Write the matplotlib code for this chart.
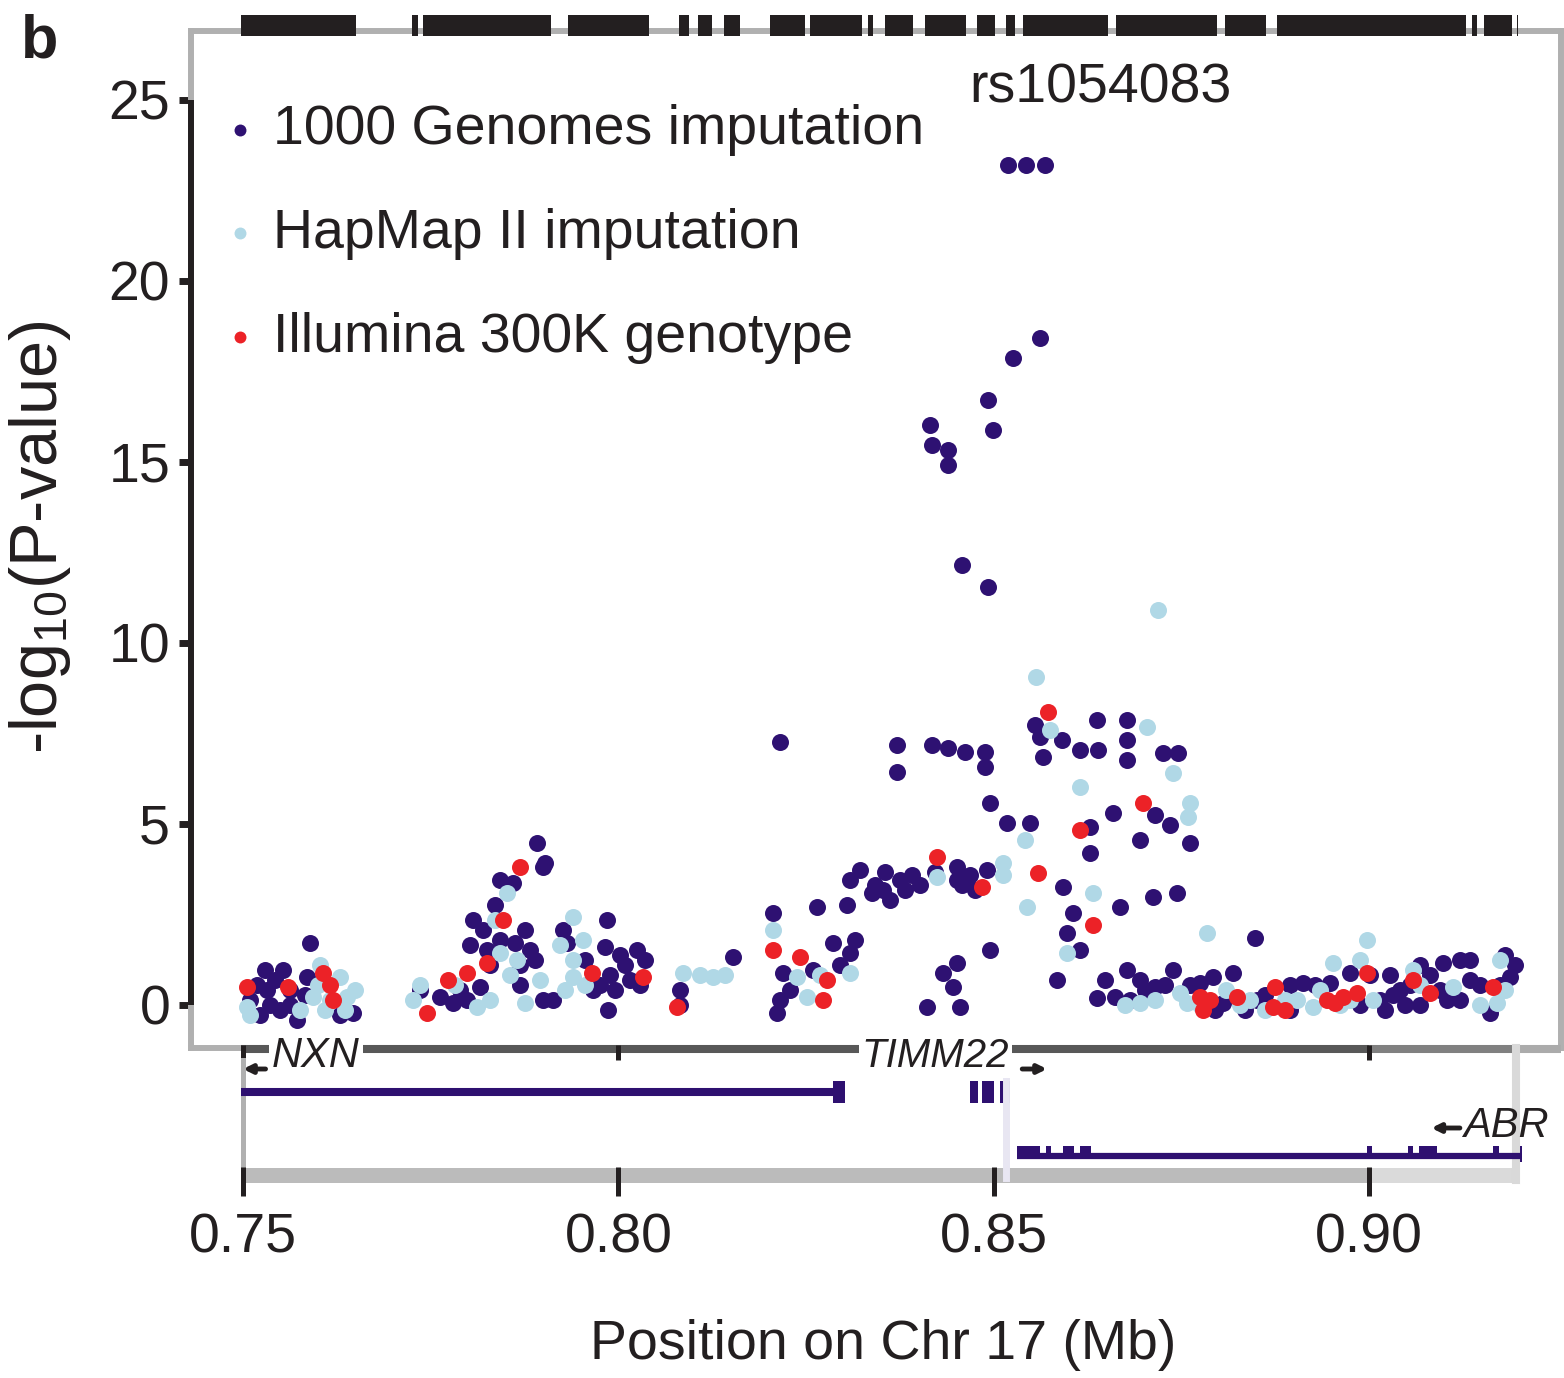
import matplotlib.pyplot as plt
import matplotlib.transforms as mtransforms
from matplotlib.patches import Rectangle

plt.rcParams['font.family'] = ['Liberation Sans', 'DejaVu Sans']
plt.rcParams['mathtext.fontset'] = 'custom'
plt.rcParams['mathtext.rm'] = 'Liberation Sans'
plt.rcParams['mathtext.it'] = 'Liberation Sans:italic'

# ---- association results (position in Mb, -log10 P) ----
g1000_x = [0.8519, 0.8543, 0.8568, 0.8562, 0.8526, 0.8492, 0.8499, 0.8415, 0.8418, 0.8439,
           0.8439, 0.8458, 0.8492,
           0.8215, 0.8371, 0.8371, 0.8418, 0.8439, 0.8462, 0.8488, 0.8488, 0.8555, 0.8562,
           0.8566, 0.8591, 0.8615, 0.8639, 0.8638, 0.8678, 0.8678, 0.8678, 0.8726, 0.8746,
           0.8715, 0.8735, 0.8762, 0.8695, 0.8659, 0.8628, 0.8628, 0.8495, 0.8518, 0.8548,
           0.8355, 0.8375, 0.8353, 0.8391, 0.8451, 0.8451, 0.8468, 0.8491, 0.8592, 0.8606,
           0.8598, 0.8615, 0.8668, 0.8712, 0.8744, 0.8495, 0.8451, 0.8432, 0.8446, 0.8411,
           0.8455, 0.8584, 0.8638, 0.8662, 0.8682, 0.8678, 0.8695, 0.8715, 0.8739,
           0.8402, 0.8422, 0.8458, 0.8475, 0.8362, 0.8382,
           0.8648, 0.8701, 0.8728,
           0.8309, 0.8322, 0.8342, 0.8305, 0.8338, 0.8265, 0.8286, 0.8309, 0.8206, 0.8219,
           0.8259, 0.8215, 0.8211, 0.8153, 0.8082, 0.8082, 0.8229, 0.8295, 0.8315,
           0.7902, 0.7985, 0.7982, 0.8002, 0.8025, 0.7989, 0.8016, 0.7996, 0.7966, 0.7986,
           0.7900, 0.7926, 0.7932, 0.8009, 0.8029, 0.7976, 0.8036, 0.7956,
           0.7762, 0.7780, 0.7798, 0.7816, 0.7825, 0.7842, 0.7862, 0.7882, 0.7806, 0.7842,
           0.7892, 0.7900, 0.7860, 0.7736, 0.7829, 0.7869,
           0.7789, 0.7869, 0.7889, 0.7913, 0.7820, 0.7836, 0.7876, 0.7802,
           0.7589, 0.7529, 0.7532, 0.7536, 0.7549, 0.7553, 0.7585, 0.7647, 0.7572, 0.7563,
           0.7523, 0.7519, 0.7563, 0.7583, 0.7629, 0.7509, 0.7543,
           0.8848, 0.8792, 0.8805, 0.8819, 0.8851, 0.8912, 0.8948, 0.8975, 0.9028, 0.9032,
           0.9048, 0.9055, 0.9015, 0.9099, 0.9104, 0.9134, 0.9181, 0.9188, 0.9161, 0.9081,
           0.9121, 0.8775, 0.8895, 0.8988,
           0.8762, 0.8795, 0.8835, 0.8861, 0.8895, 0.8928, 0.9001, 0.9021, 0.9041, 0.9068,
           0.9094, 0.9121, 0.9148, 0.9174, 0.9194, 0.9134, 0.9068]
g1000_y = [23.20, 23.20, 23.20, 18.43, 17.87, 16.71, 15.88, 16.02, 15.47, 15.33,
           14.92, 12.15, 11.55,
           7.27, 7.18, 6.44, 7.18, 7.10, 6.99, 6.99, 6.57, 7.73, 7.40,
           6.85, 7.32, 7.04, 7.04, 7.87, 7.87, 7.32, 6.77, 6.96, 6.96,
           5.25, 4.97, 4.48, 4.56, 5.30, 4.92, 4.20, 5.58, 5.03, 5.03,
           3.67, 3.45, 3.18, 3.59, 3.81, 3.45, 3.59, 3.73, 3.26, 2.54,
           1.99, 1.52, 2.71, 2.98, 3.09, 1.52, 1.16, 0.88, 0.50, -0.06,
           -0.06, 0.69, 0.19, 0.22, 0.14, 0.97, 0.69, 0.50, 0.97,
           3.31, 3.67, 3.31, 3.18, 2.90, 3.18,
           0.69, 0.41, 0.55,
           3.45, 3.73, 3.31, 2.76, 3.09, 2.71, 1.71, 1.44, 2.54, 0.88,
           0.97, 0.14, -0.22, 1.33, 0.41, 0.00, 0.41, 1.10, 1.80,
           3.92, 2.35, 1.60, 1.38, 1.52, 0.83, 0.69, 0.41, 0.41, -0.14,
           0.14, 2.07, 1.71, 1.10, 0.55, 0.55, 1.24, 1.24,
           0.22, 0.06, 0.14, 0.50, 1.52, 1.80, 1.71, 1.52, 2.35, 3.45,
           4.48, 3.81, 3.37, 0.41, 1.10, 1.10,
           0.41, 0.55, 1.24, 0.14, 2.07, 2.76, 2.07, 1.66,
           1.71, 0.97, 0.41, 0.00, -0.14, 0.97, 0.77, -0.22, -0.41, 0.41,
           -0.28, 0.55, 0.00, 0.28, -0.28, 0.14, 0.69,
           1.85, 0.77, 0.06, 0.88, 0.14, 0.61, 0.61, 0.88, 0.83, 0.28,
           0.00, 0.55, 0.14, 1.16, 0.14, 0.69, 1.38, 0.77, -0.22, 0.83,
           1.24, 0.61, -0.14, 0.00,
           0.55, -0.14, -0.14, 0.28, 0.55, 0.55, 0.83, -0.14, 0.41, 0.00,
           0.41, 0.14, 0.55, 0.55, 1.10, 1.24, 1.10]

hapmap_x = [0.8719, 0.8556, 0.8575, 0.8704, 0.8739, 0.8615, 0.8762, 0.8759, 0.8542, 0.8512,
            0.8424, 0.8512, 0.8544, 0.8632, 0.8598, 0.8695, 0.8748, 0.8784, 0.8206, 0.8238,
            0.8251, 0.8309, 0.8086, 0.8126, 0.7940, 0.7953, 0.7940, 0.7940, 0.7842, 0.7852,
            0.7865, 0.7726, 0.7812, 0.7505, 0.7593, 0.7639, 0.7629, 0.7609,
            0.7509, 0.7600, 0.7616, 0.7636, 0.7603, 0.7576, 0.7649,
            0.7736, 0.7782, 0.7829, 0.7856, 0.7876, 0.7896, 0.7836,
            0.7929, 0.7956, 0.7922, 0.8109, 0.8142, 0.8269, 0.8715, 0.8675,
            0.8757, 0.8904, 0.8925, 0.8952, 0.8997, 0.9005, 0.9059, 0.9112, 0.9170, 0.9174,
            0.8841, 0.8961, 0.8775, 0.8809, 0.8861, 0.8888, 0.8935, 0.8975, 0.8988, 0.9068,
            0.9148, 0.9181, 0.8828]
hapmap_y = [10.91, 9.06, 7.60, 7.68, 6.41, 6.02, 5.58, 5.19, 4.56, 3.92,
            3.54, 3.59, 2.71, 3.09, 1.44, 0.06, 0.33, 1.99, 2.07, 0.77,
            0.22, 0.88, 0.88, 0.77, 2.43, 1.80, 1.24, 0.77, 1.44, 3.09,
            1.24, 0.14, -0.06, -0.06, 0.22, 0.22, 0.77, -0.14,
            -0.28, 0.55, 0.14, -0.14, 1.10, -0.14, 0.41,
            0.55, 0.55, 0.14, 0.83, 0.06, 0.69, 2.35,
            0.41, 0.55, 1.66, 0.83, 0.83, 0.83, 0.14, 0.00,
            0.06, 0.14, -0.06, 1.16, 1.80, 0.14, 0.97, 0.50, 0.06, 1.24,
            0.14, 0.00, 0.00, 0.41, -0.14, 0.14, 0.41, 0.14, 1.24, 0.55,
            0.00, 0.41, 0.00]

illumina_x = [0.8572, 0.8699, 0.8615, 0.8424, 0.8559, 0.8484, 0.8632, 0.8775, 0.8779, 0.8206,
              0.8242, 0.8278, 0.8273, 0.8078, 0.7965, 0.8033, 0.7869, 0.7846, 0.7825, 0.7798,
              0.7773, 0.7745, 0.7505, 0.7560, 0.7607, 0.7620, 0.7616,
              0.8824, 0.8875, 0.8872, 0.8944, 0.8965, 0.8984, 0.8997, 0.9059, 0.9081, 0.9165,
              0.8788, 0.8888, 0.8955]
illumina_y = [8.09, 5.58, 4.83, 4.09, 3.65, 3.26, 2.21, 0.22, -0.14, 1.52,
              1.33, 0.69, 0.14, -0.06, 0.88, 0.77, 3.81, 2.35, 1.16, 0.88,
              0.69, -0.22, 0.50, 0.50, 0.88, 0.14, 0.55,
              0.22, 0.50, -0.06, 0.14, 0.22, 0.33, 0.88, 0.69, 0.33, 0.50,
              0.14, -0.14, 0.06]

series_labels = ['1000 Genomes imputation', 'HapMap II imputation', 'Illumina 300K genotype']
top_snp = 'rs1054083'
top_snp_pos = (0.8642, 25.3)

# ---- marker density rug along the top (Mb ranges) ----
snp_blocks = [(0.7497, 0.7651), (0.7725, 0.7733), (0.7740, 0.7910), (0.7933, 0.8041),
              (0.8081, 0.8094), (0.8106, 0.8125), (0.8141, 0.8162), (0.8202, 0.8249),
              (0.8255, 0.8325), (0.8333, 0.8339), (0.8355, 0.8392), (0.8408, 0.8463),
              (0.8478, 0.8502), (0.8516, 0.8528), (0.8539, 0.8652), (0.8663, 0.8797),
              (0.8808, 0.8863), (0.8877, 0.9129), (0.9137, 0.9144), (0.9153, 0.9190),
              (0.9197, 0.9199)]

# ---- genes ----
nxn_span = (0.7497, 0.8295)
nxn_exons = [(0.8286, 0.8302)]
timm22_exons = [(0.8468, 0.8479), (0.8484, 0.8500), (0.8508, 0.8522)]
abr_span = (0.8531, 0.9204)
abr_exons = [(0.8531, 0.8562), (0.8570, 0.8576), (0.8592, 0.8607), (0.8615, 0.8630),
             (0.8997, 0.9004), (0.9052, 0.9059), (0.9067, 0.9091), (0.9165, 0.9173)]

xticks = [0.75, 0.80, 0.85, 0.90]
xtick_labels = ['0.75', '0.80', '0.85', '0.90']
yticks = [0, 5, 10, 15, 20, 25]

DARK = '#2e1172'
LIGHT = '#b0d8e6'
RED = '#ec2227'
INK = '#231f20'
GENE = '#2e1070'
FS = 40
MS = 150

fig = plt.figure(figsize=(15.64, 13.78), dpi=100)
W, H = 1564, 1378
xlim = (0.74307, 0.92557)

ax = fig.add_axes([191 / W, 1 - 1048 / H, 1370 / W, 1017 / H])
ax.set_xlim(*xlim)
ax.set_ylim(-1.188, 26.9)

s1 = ax.scatter(g1000_x, g1000_y, s=MS, color=DARK, linewidths=0, label=series_labels[0], zorder=3)
s2 = ax.scatter(hapmap_x, hapmap_y, s=MS, color=LIGHT, linewidths=0, label=series_labels[1], zorder=3)
s3 = ax.scatter(illumina_x, illumina_y, s=MS, color=RED, linewidths=0, label=series_labels[2], zorder=3)

for sp in ax.spines.values():
    sp.set_color('#b0b0b0')
    sp.set_linewidth(4.3)
yax_tr = mtransforms.blended_transform_factory(ax.transAxes, ax.transData)
ax.plot([0, 0], [0, 25], color=INK, lw=4.3, transform=yax_tr, clip_on=False,
        solid_capstyle='butt', zorder=5)
ax.set_xticks([])
ax.set_yticks(yticks)
ax.tick_params(axis='y', length=9, width=5, color=INK, pad=6, labelsize=FS, labelcolor=INK)

# top rug
rug_tr = mtransforms.blended_transform_factory(ax.transData, ax.transAxes)
ax.broken_barh([(a, b - a) for a, b in snp_blocks], (0.995, 0.021), transform=rug_tr,
               facecolor=INK, edgecolor='none', clip_on=False, zorder=6)

ax.text(top_snp_pos[0], top_snp_pos[1], top_snp, fontsize=FS, color=INK, ha='center', va='center')

ax.legend(handles=[s1, s2, s3], loc='upper left', bbox_to_anchor=(0.0255, 0.928),
          frameon=False, fontsize=FS, borderpad=0, borderaxespad=0, handlelength=0.5,
          handletextpad=0.35, labelspacing=0.93, scatterpoints=1, markerscale=0.7,
          labelcolor=INK)

ax.text(-0.110, 0.502, '-log$_{10}$(P-value)', transform=ax.transAxes, rotation=90,
        ha='center', va='center', fontsize=48, color=INK)

# ---- gene track ----
tk = fig.add_axes([191 / W, 1 - 1196 / H, 1370 / W, 156 / H])
tk.set_xlim(*xlim)
tk.set_ylim(0, 156)
for name, sp in tk.spines.items():
    sp.set_visible(False)
tk.set_axisbelow(False)
tk.set_yticks([])
tk.set_xticks(xticks)
tk.set_xticklabels(xtick_labels)
tk.tick_params(axis='x', direction='in', length=21, width=3.6, color=INK, pad=12,
               labelsize=FS, labelcolor=INK)
tk.patch.set_alpha(0)

# genomic axis line along top of track
tk.plot([0.7497, 0.90], [147, 147], color='#585858', lw=5.8, solid_capstyle='butt')
tk.plot([0.90, 0.9196], [147, 147], color='#808080', lw=5.8, solid_capstyle='butt')
tk.plot([0.9196, xlim[1]], [147, 147], color='#ababab', lw=5.8, solid_capstyle='butt')
tk.vlines([0.75, 0.80, 0.90], 136, 151, color=INK, lw=3.6)

# bottom band
tk.plot([0.7497, 0.90], [21.5, 21.5], color='#bbbbbb', lw=10.8, solid_capstyle='butt')
tk.plot([0.90, 0.9196], [21.5, 21.5], color='#dadada', lw=10.8, solid_capstyle='butt')

# side guides
tk.plot([0.7500, 0.7500], [26, 136], color='#b0b0b0', lw=3.6)
tk.plot([0.9196, 0.9196], [16, 148], color='#d9d9d9', lw=5.8)
tk.plot([0.8516, 0.8516], [18, 121], color='#e8e6f2', lw=5.0)

arrow_style = dict(arrowstyle='-|>,head_length=0.5,head_width=0.25', lw=3.5, color=INK,
                   shrinkA=0, shrinkB=0)

# NXN
tk.plot(nxn_span, [104, 104], color=GENE, lw=5.8, solid_capstyle='butt')
for a, b in nxn_exons:
    tk.add_patch(Rectangle((a, 93), b - a, 22, color=GENE, lw=0))
tk.annotate('', xy=(0.7500, 127), xytext=(0.7530, 127), arrowprops=arrow_style)
tk.text(0.7597, 140, 'NXN', fontsize=30, style='italic', color=INK, ha='center', va='center',
        bbox=dict(facecolor='white', edgecolor='none', pad=2))

# TIMM22
for a, b in timm22_exons:
    tk.add_patch(Rectangle((a, 93), b - a, 22, color=GENE, lw=0))
tk.text(0.8422, 140, 'TIMM22', fontsize=29, style='italic', color=INK, ha='center', va='center',
        bbox=dict(facecolor='white', edgecolor='none', pad=2))
tk.annotate('', xy=(0.8571, 127), xytext=(0.8538, 127), arrowprops=arrow_style)

# ABR
tk.plot(abr_span, [40, 40], color=GENE, lw=4.5, solid_capstyle='butt')
for a, b in abr_exons:
    tk.add_patch(Rectangle((a, 40), b - a, 10, color=GENE, lw=0))
tk.add_patch(Rectangle((abr_span[1] - 0.0009, 34), 0.0009, 16, color=GENE, lw=0))
tk.annotate('', xy=(0.9083, 68), xytext=(0.9121, 68), arrowprops=arrow_style)
tk.text(0.9182, 70, 'ABR', fontsize=30, style='italic', color=INK, ha='center', va='center')

fig.text(883 / W, 1 - 1345 / H, 'Position on Chr 17 (Mb)', fontsize=FS, color=INK,
         ha='center', va='center')
fig.text(40 / W, 1 - 42 / H, 'b', fontsize=44, fontweight='bold', color=INK,
         ha='center', va='center')

fig.savefig('out.png', dpi=100)
